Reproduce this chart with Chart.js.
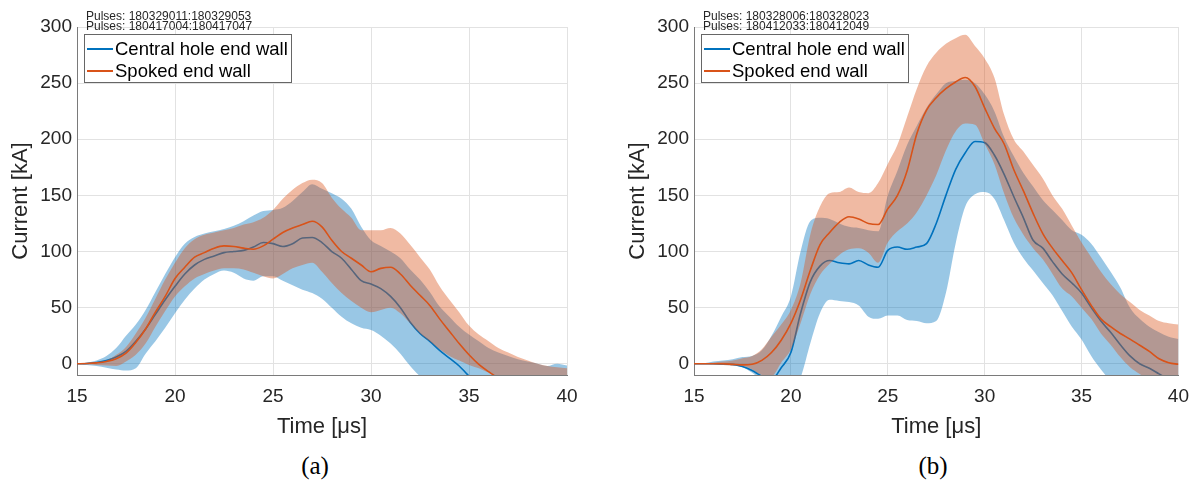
<!DOCTYPE html>
<html><head><meta charset="utf-8">
<script src="https://cdn.jsdelivr.net/npm/chart.js@4.4.1/dist/chart.umd.min.js"></script>
<style>
html,body{margin:0;padding:0;background:#fff;}
body{width:1199px;height:488px;position:relative;overflow:hidden;font-family:"Liberation Sans",Arial,sans-serif;color:#262626;}
canvas{position:absolute;top:0;}
.pulses{position:absolute;top:11px;font-size:12px;line-height:10.4px;white-space:nowrap;color:#262626;}
.legend{position:absolute;top:34px;width:208px;height:49px;border:1px solid #666;background:#fff;box-sizing:border-box;}
.row{position:absolute;left:0;height:22px;width:206px;}
.sw{position:absolute;left:2px;top:10px;width:26px;height:2px;}
.lt{position:absolute;left:30px;top:0;font-size:18.5px;line-height:22px;white-space:nowrap;color:#000;}
.cap{position:absolute;top:451px;font-family:"Liberation Serif","DejaVu Serif",serif;font-size:25px;line-height:30px;transform:translateX(-50%);color:#000;}
</style></head>
<body>
<canvas id="ca" width="590" height="440" style="left:0px"></canvas>
<canvas id="cb" width="582" height="440" style="left:617px"></canvas>

<div class="pulses" style="left:86px">Pulses: 180329011:180329053<br>Pulses: 180417004:180417047</div>
<div class="pulses" style="left:703px">Pulses: 180328006:180328023<br>Pulses: 180412033:180412049</div>

<div class="legend" style="left:84px">
  <div class="row" style="top:3px"><div class="sw" style="background:#0072BD"></div><div class="lt">Central hole end wall</div></div>
  <div class="row" style="top:25px"><div class="sw" style="background:#D95319"></div><div class="lt">Spoked end wall</div></div>
</div>
<div class="legend" style="left:701px">
  <div class="row" style="top:3px"><div class="sw" style="background:#0072BD"></div><div class="lt">Central hole end wall</div></div>
  <div class="row" style="top:25px"><div class="sw" style="background:#D95319"></div><div class="lt">Spoked end wall</div></div>
</div>

<div class="cap" style="left:315px">(a)</div>
<div class="cap" style="left:933px">(b)</div>

<script>
// Time axis [μs]
const timeUs = [15,15.5,16,16.5,17,17.5,18,18.5,19,19.5,20,20.5,21,21.5,22,22.5,23,23.5,24,24.5,25,25.5,26,26.5,27,27.5,28,28.5,29,29.5,30,30.5,31,31.5,32,32.5,33,33.5,34,34.5,35,35.5,36,36.5,37,37.5,38,38.5,39,39.5,40];
const xTicks = [15,20,25,30,35,40];
const yTicks = [0,50,100,150,200,250,300];

// (a) Central hole end wall
const centralMeanA  = [0,0.3,1.2,3,6,11,20,31,44,57,69,80,88,93,96,99,100,101,104,108,107,104.5,107,112,112.5,108,100,94,84,74,71,67,60,50,37,27,20,12,5,-2,-11,null,null,null,null,null,null,null,null,null,null];
const centralUpperA = [0,1,3,7,14,25,35,48,64,80,95,107,113,116,118,120,123,127,132,136,137,139,145,153,160,156,152,147,138,122,110,105,100,94,84,75,64,51,42,33,26,20,14,10,7,4,2,0,-2,0,-1.5];
const centralLowerA = [0,-1,-2,-3.5,-5,-6,-4,9,20,32,45,57,67,75,80,83,81,76,74,78,78,74,70,66,63,58,50,42,36,32,30,25,18,9,-2,-11,-16,-20,-20,-20,-20,-20,-20,-20,-20,-20,-20,-20,-20,-20,-20];
// (a) Spoked end wall
const spokedMeanA   = [0,0.2,0.8,2,4.5,9.5,19,31,46,60,76,86,95,99,103,105,104.5,103,102,105,111,117,121,124,127,122,110,100,94,88,82,85,86,80,70,61,52,40,29,18,8,-0.5,-7,-13,null,null,null,null,null,null,null];
const spokedUpperA  = [0,0.5,1.5,3,8,15,27,41,58,75,90,103,111,115,117,119,121,124,126,130,137,147,155,161,164,161,148,138,130,119,119,119,121,116,106,95,84,69,57,46,34,26,20,14,10,6,3,0,-2,-3,-4];
const spokedLowerA  = [0,-0.5,-1,-1.5,-2,2,8,18,33,47,60,69,76,80,83,85,85,84,81,78,76,80,85,88,90,82,72,63,56,50,46,48,50,45,36,27,20,13,7,3,-1,-4,-8,-12,-20,-20,-20,-20,-20,-20,-20];

// (b) Central hole end wall
const centralMeanB  = [0,0,0,-0.2,-0.5,-2.5,-6,-11,-14,-3.5,10,45,73,87,92,90,89,92,88,86,101,104,102,104,107,125,150,173,188,198,197,186,169,149,130,110,103,91,80,72,63,50,38,28,17,7,0,-4,-9,-14,null];
const centralUpperB = [0,0.5,2,3,4,6,7,12,25,42,60,100,127,130,129,125,122,121,119,118,150,172,195,212,228,240,250,252,253,250,240,225,202,185,170,158,146,137,128,119,115,107,95,82,68,50,40,33,28,24,22];
const centralLowerB = [0,0,-0.5,-1,-1.5,-3,-8,-15,-20,-20,-20,-12,18,45,57,56,55,52,42,40,43,43,39,38,36,38,63,107,140,151,153,147,128,108,94,83,72,61,47,33,21.6,7,-5,-15,-20,-20,-20,-20,-20,-20,-20];
// (b) Spoked end wall
const spokedMeanB   = [0,0,0,0,-0.5,-1,-0.5,3,10,21,36,57,83,106,117,126,131,129,125,124,138,150,172,205,226,237,245,251,255,247,228,210,196,173,154,134,116,103,92,81,66,52,40,33,27,22,16.5,11,4.5,1,-0.5];
const spokedUpperB  = [0,0.5,1,2,3,5,7,13,24,35,48,72,115,140,152,153,157,153,152,161,178,195,220,245,265,277,285,290,293,283,272,255,222,200,189,177,165,150,138,123,108,95,82,71,62,55,48,43,38,36,35];
const spokedLowerB  = [0,0,-0.5,-1,-1.5,-2,-5,-10,-11,1,12.7,36,62,79,89,97,102,103,99,90,108,118,125,135,150,168,190,207,214,213,196,178,152,130,115,103,93,80,67,60,50,40,27,17,6,-3,-9,-15,-20,-20,-20];

const BLUE = '#0072BD', ORANGE = '#D95319';
const BLUE_FILL = 'rgba(0,114,189,0.4)', ORANGE_FILL = 'rgba(217,83,25,0.4)';
const FONT = "'Liberation Sans', Arial, Helvetica, sans-serif";
Chart.defaults.font.family = FONT;
Chart.defaults.color = '#262626';

function pts(arr){ return timeUs.map((t,i)=>({x:t, y:arr[i]})); }

function makeChart(id, padRight, cMean, cUp, cLo, sMean, sUp, sLo){
  const common = {pointRadius:0, pointHoverRadius:0, cubicInterpolationMode:'monotone', spanGaps:false};
  return new Chart(document.getElementById(id), {
    type:'line',
    data:{datasets:[
      Object.assign({label:'Spoked end wall', data:pts(sMean), borderColor:ORANGE, borderWidth:1.6, fill:false}, common),
      Object.assign({label:'Spoked upper', data:pts(sUp), borderColor:'rgba(0,0,0,0)', borderWidth:0, backgroundColor:ORANGE_FILL, fill:'+1'}, common),
      Object.assign({label:'Spoked lower', data:pts(sLo), borderColor:'rgba(0,0,0,0)', borderWidth:0, fill:false}, common),
      Object.assign({label:'Central hole end wall', data:pts(cMean), borderColor:BLUE, borderWidth:1.6, fill:false}, common),
      Object.assign({label:'Central upper', data:pts(cUp), borderColor:'rgba(0,0,0,0)', borderWidth:0, backgroundColor:BLUE_FILL, fill:'+1'}, common),
      Object.assign({label:'Central lower', data:pts(cLo), borderColor:'rgba(0,0,0,0)', borderWidth:0, fill:false}, common)
    ]},
    options:{
      responsive:false, devicePixelRatio:1, animation:false,
      layout:{padding:{left:0, top:27, right:padRight, bottom:0}},
      plugins:{legend:{display:false}, tooltip:{enabled:false}, title:{display:false}},
      scales:{
        x:{type:'linear', min:15, max:40,
           afterBuildTicks:(s)=>{ s.ticks = xTicks.map(v=>({value:v})); },
           ticks:{font:{size:19}, color:'#262626', padding:10, maxRotation:0},
           grid:{color:'#e2e2e2', drawTicks:false, lineWidth:1},
           border:{display:true, color:'#7a7a7a', width:1},
           title:{display:true, text:'Time [μs]', font:{size:22}, color:'#262626', padding:{top:0, bottom:0}},
           afterFit:(s)=>{ s.height = 65; }},
        y:{type:'linear', min:-10, max:300,
           afterBuildTicks:(s)=>{ s.ticks = yTicks.map(v=>({value:v})); },
           ticks:{font:{size:19}, color:'#262626', padding:5},
           grid:{color:'#e2e2e2', drawTicks:false, lineWidth:1},
           border:{display:true, color:'#7a7a7a', width:1},
           title:{display:true, text:'Current [kA]', font:{size:22}, color:'#262626', padding:{top:8, bottom:0}},
           afterFit:(s)=>{ s.width = 77; }}
      }
    }
  });
}

makeChart('ca', 23, centralMeanA, centralUpperA, centralLowerA, spokedMeanA, spokedUpperA, spokedLowerA);
makeChart('cb', 16, centralMeanB, centralUpperB, centralLowerB, spokedMeanB, spokedUpperB, spokedLowerB);
</script>
</body></html>
